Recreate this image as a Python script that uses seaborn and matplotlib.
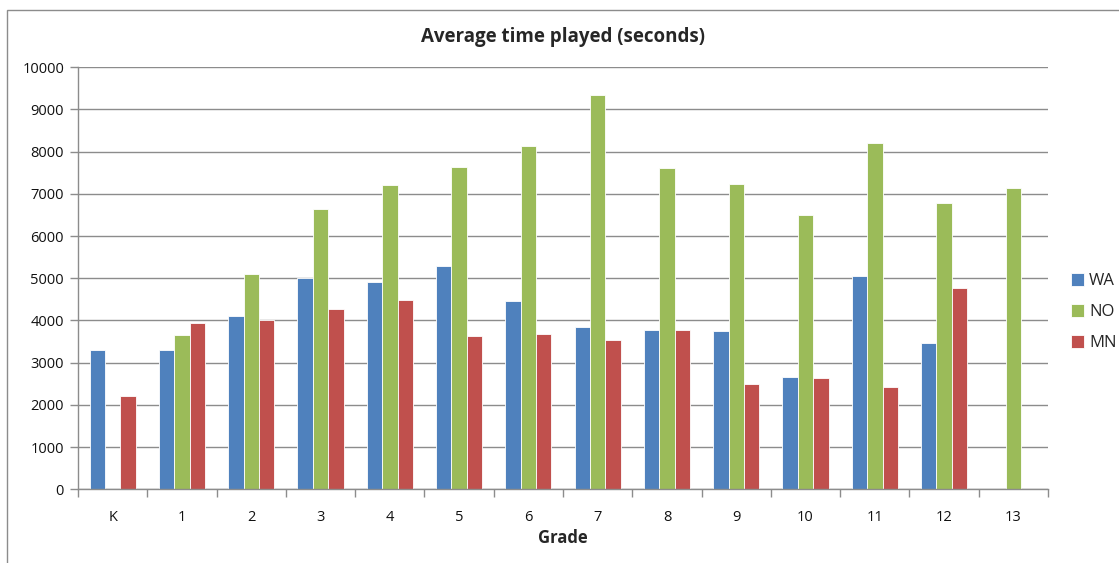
import numpy as np
import pandas as pd
import matplotlib
matplotlib.use("Agg")
import matplotlib.pyplot as plt
from matplotlib.patches import Rectangle
import seaborn as sns

# Grades and average time played per region (seconds)
grades = ["K", "1", "2", "3", "4", "5", "6", "7", "8", "9", "10", "11", "12", "13"]
wa = [3300, 3300, 4100, 5000, 4910, 5280, 4460, 3850, 3780, 3750, 2650, 5050, 3470, np.nan]
no = [np.nan, 3650, 5100, 6645, 7210, 7640, 8130, 9350, 7620, 7230, 6510, 8200, 6780, 7150]
mn = [2210, 3940, 4005, 4265, 4480, 3630, 3690, 3530, 3780, 2505, 2645, 2420, 4765, np.nan]
regions = ["WA", "NO", "MN"]
colors = ["#4F81BD", "#9BBB59", "#C0504D"]

df = pd.DataFrame({
    "Grade": grades * 3,
    "Region": [r for r in regions for _ in grades],
    "Time": wa + no + mn,
})

sns.set_theme(style="white")
plt.rcParams["font.family"] = ["Open Sans", "DejaVu Sans"]

fig = plt.figure(figsize=(11.19, 5.63), dpi=100)
ax = fig.add_axes([0.0697, 0.1309, 0.8669, 0.7496])

sns.barplot(data=df, x="Grade", y="Time", hue="Region", order=grades,
            hue_order=regions, palette=colors, width=0.667, saturation=1,
            edgecolor="white", linewidth=0.6, ax=ax, errorbar=None)

ax.set_ylim(0, 10000)
ax.set_xlim(-0.5, len(grades) - 0.5)
ax.set_yticks(np.arange(0, 10001, 1000))
ax.yaxis.grid(True, color="#8c8c8c", linewidth=1)
ax.set_axisbelow(True)

for side in ["top", "right"]:
    ax.spines[side].set_visible(False)
for side in ["left", "bottom"]:
    ax.spines[side].set_color("#8c8c8c")
    ax.spines[side].set_linewidth(1)

# Category ticks sit between the bar groups; labels stay centred
ax.set_xticks(np.arange(len(grades)))
ax.set_xticklabels(grades)
ax.set_xticks(np.arange(-0.5, len(grades), 1), minor=True)
ax.tick_params(axis="x", which="major", length=0, pad=15, labelsize=10.5, labelcolor="#111111")
ax.tick_params(axis="x", which="minor", length=6, width=1, color="#8c8c8c", direction="out", bottom=True)
ax.tick_params(axis="y", which="major", length=6, width=1, color="#8c8c8c", direction="out",
               left=True, pad=4, labelsize=10.5, labelcolor="#111111")

ax.set_xlabel("Grade", fontsize=12, fontweight="bold", labelpad=3)
ax.set_ylabel("")
ax.set_title("Average time played (seconds)", fontsize=13.5, fontweight="bold", pad=18)

leg = ax.legend(loc="center left", bbox_to_anchor=(1.008, 0.42), frameon=False,
                fontsize=12, handlelength=0.8, handleheight=0.8, handletextpad=0.3,
                labelspacing=0.9)

# Chart frame
fig.patches.append(Rectangle((7 / 1119, -0.1), 1.2, 1 - 10 / 563 + 0.1,
                             transform=fig.transFigure, fill=False,
                             edgecolor="#8c8c8c", linewidth=1))

fig.savefig("out.png", dpi=100)
